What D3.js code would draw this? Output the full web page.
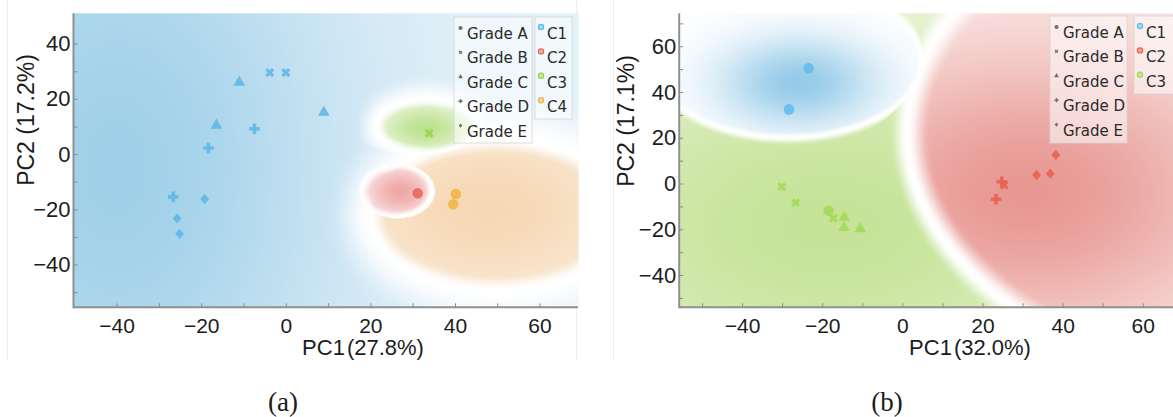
<!doctype html>
<html>
<head>
<meta charset="utf-8">
<title>PCA clusters (a) (b)</title>
<script src="https://cdnjs.cloudflare.com/ajax/libs/d3/7.8.5/d3.min.js"></script>
<style>
  body { margin: 0; background: #fff; }
  svg text { font-family: "Liberation Sans", Arial, sans-serif; fill: #1c1c1c; }
  .legend text { font-family: "DejaVu Sans", Verdana, sans-serif; font-size: 15px; fill: #2a2a2a; }
  .caption { font-family: "Liberation Serif", "Times New Roman", serif !important; }
</style>
</head>
<body>
<div id="chart"></div>
<script>
// ---- data ----
const grades = ["Grade A", "Grade B", "Grade C", "Grade D", "Grade E"];
const clustersA = ["C1", "C2", "C3", "C4"];
const clustersB = ["C1", "C2", "C3"];
const xTicks = [-40, -20, 0, 20, 40, 60];
const yTicksA = [-40, -20, 0, 20, 40];
const yTicksB = [-40, -20, 0, 20, 40, 60];

// samples: [PC1, PC2, grade, cluster]
const pointsA = [
  [-11.0, 26.0, "Grade C", "C1"],
  [-3.8, 29.5, "Grade B", "C1"],
  [0.0, 29.5, "Grade B", "C1"],
  [9.0, 15.1, "Grade C", "C1"],
  [-16.4, 10.4, "Grade C", "C1"],
  [-7.4, 9.2, "Grade D", "C1"],
  [-18.3, 2.2, "Grade D", "C1"],
  [-26.6, -15.5, "Grade D", "C1"],
  [-19.2, -16.3, "Grade E", "C1"],
  [-25.7, -23.3, "Grade E", "C1"],
  [-25.1, -28.9, "Grade E", "C1"],
  [33.9, 7.5, "Grade B", "C3"],
  [31.2, -14.2, "Grade A", "C2"],
  [40.2, -14.5, "Grade A", "C4"],
  [39.6, -18.2, "Grade A", "C4"]
];
const pointsB = [
  [-23.4, 50.4, "Grade A", "C1"],
  [-28.3, 32.4, "Grade A", "C1"],
  [-30.1, -1.4, "Grade B", "C3"],
  [-26.6, -8.4, "Grade B", "C3"],
  [-18.4, -11.9, "Grade A", "C3"],
  [-17.2, -15.2, "Grade B", "C3"],
  [-14.5, -14.8, "Grade C", "C3"],
  [-14.6, -19.3, "Grade C", "C3"],
  [-10.5, -19.8, "Grade C", "C3"],
  [24.8, 0.8, "Grade D", "C2"],
  [25.4, -0.7, "Grade B", "C2"],
  [23.4, -6.9, "Grade D", "C2"],
  [33.5, 3.7, "Grade E", "C2"],
  [36.9, 4.3, "Grade E", "C2"],
  [38.3, 12.5, "Grade E", "C2"]
];

// cluster regions of the shaded background: centre, spread, bias (score = bias - d^2/2)
const regionsA = [
  { cluster: "C1", mu: [0, 0], sd: [1e4, 1e4], bias: 0, core: { mu: [-40, -5], sd: [38, 85], lo: 0.28 } },
  { cluster: "C2", mu: [26.5, -13.5], sd: [4.4, 4.9], bias: 2, core: { mu: [27, -13.5], sd: [5.5, 6.2], lo: 0.08 } },
  { cluster: "C3", mu: [33.5, 10], sd: [12, 10], bias: 0.5, core: { mu: [33, 9.5], sd: [7.5, 6.2], lo: 0.1 } },
  { cluster: "C4", mu: [50, -22], sd: [30, 27.5], bias: 0.5, core: { mu: [48, -20], sd: [24, 22], lo: 0.35 } }
];
const regionsB = [
  { cluster: "C1", mu: [-28, 46], sd: [13, 13], bias: 1.52, core: { mu: [-26, 44], sd: [14, 14], lo: 0 } },
  { cluster: "C2", mu: [35, -2], sd: [30, 31], bias: 0.27, core: { mu: [31, -4], sd: [40, 45], lo: 0.15 } },
  { cluster: "C3", mu: [-22, -18], sd: [40, 40], bias: 0, core: { mu: [-18, -18], sd: [56, 56], lo: 0.3 } }
];

// ---- styles ----
const markColor = {
  a: { C1: "#5fb6e6", C2: "#e8675a", C3: "#98d548", C4: "#f1b444" },
  b: { C1: "#62bcec", C2: "#e8604f", C3: "#a2d957" }
};
const fieldColor = {
  a: { C1: [160, 208, 233], C2: [239, 168, 168], C3: [190, 226, 146], C4: [246, 216, 180] },
  b: { C1: [150, 203, 232], C2: [232, 152, 146], C3: [198, 227, 152] }
};
// width (px) of the fade to white at a boundary: [winner][runner-up]
const fadeWidth = {
  a: {
    C1: { C2: 36, C3: 20, C4: 40 },
    C2: { C1: 12, C3: 8, C4: 8 },
    C3: { C1: 12, C2: 8, C4: 8 },
    C4: { C1: 18, C2: 8, C3: 8 }
  },
  b: {
    C1: { C2: 12, C3: 6 },
    C2: { C1: 20, C3: 24 },
    C3: { C1: 8, C2: 18 }
  }
};

const diamond = {
  draw(ctx, size) {
    const h = Math.sqrt(size) * 0.62, w = h * 0.85;
    ctx.moveTo(0, -h); ctx.lineTo(w, 0); ctx.lineTo(0, h); ctx.lineTo(-w, 0); ctx.closePath();
  }
};
const gradeShape = {
  "Grade A": { type: d3.symbolCircle, size: 88, rot: 0 },
  "Grade B": { type: d3.symbolCross, size: 52, rot: 45 },
  "Grade C": { type: d3.symbolTriangle, size: 60, rot: 0 },
  "Grade D": { type: d3.symbolCross, size: 62, rot: 0 },
  "Grade E": { type: diamond, size: 70, rot: 0 }
};

const panels = [
  {
    id: "a", points: pointsA, regions: regionsA, clusters: clustersA, yTicks: yTicksA,
    xDomain: [-50.2, 69.1], yDomain: [-55.5, 51.0],
    left: 73.5, right: 578, top: 13.3, bottom: 307.3,
    yLabel: "PC2 (17.2%)", yLabelPos: [34, 120],
    xLabel: ["PC1", "(27.8%)"], xLabelPos: [363, 355],
    caption: "(a)", captionPos: [283, 411],
    gradeBox: [454, 17, 78, 126], cBox: [535, 17, 37, 102]
  },
  {
    id: "b", points: pointsB, regions: regionsB, clusters: clustersB, yTicks: yTicksB,
    xDomain: [-55.7, 67.54], yDomain: [-54.1, 74.4],
    left: 679.2, right: 1173, top: 13.3, bottom: 307.3,
    yLabel: "PC2 (17.1%)", yLabelPos: [634, 121],
    xLabel: ["PC1", "(32.0%)"], xLabelPos: [970, 355],
    caption: "(b)", captionPos: [887, 411],
    gradeBox: [1050, 16, 77, 127], cBox: [1134, 16, 50, 78]
  }
];

const width = 1173, height = 417;
const svg = d3.select("#chart").append("svg")
  .attr("width", width).attr("height", height);

// faint edges of the two source images
svg.append("line").attr("x1", 7.5).attr("x2", 7.5).attr("y1", 0).attr("y2", 360).attr("stroke", "#eeeeee");
svg.append("line").attr("x1", 576.5).attr("x2", 576.5).attr("y1", 0).attr("y2", 360).attr("stroke", "#eeeeee");
svg.append("line").attr("x1", 613.5).attr("x2", 613.5).attr("y1", 0).attr("y2", 360).attr("stroke", "#eeeeee");

function smooth(e0, e1, v) {
  const t = Math.max(0, Math.min(1, (v - e0) / (e1 - e0)));
  return t * t * (3 - 2 * t);
}

function drawField(p, x, y) {
  const w = Math.round(p.right - p.left), h = Math.round(p.bottom - p.top);
  const canvas = document.createElement("canvas");
  canvas.width = w; canvas.height = h;
  const ctx = canvas.getContext("2d");
  const img = ctx.createImageData(w, h);
  const kx = x(1) - x(0), ky = y(0) - y(1);
  const cols = fieldColor[p.id], fades = fadeWidth[p.id];
  for (let j = 0; j < h; j++) {
    for (let i = 0; i < w; i++) {
      const X = x.invert(p.left + i + 0.5), Y = y.invert(p.top + j + 0.5);
      let s1 = -Infinity, s2 = -Infinity, r1 = null, r2 = null, g1 = [0, 0], g2 = [0, 0];
      p.regions.forEach(r => {
        const dx = X - r.mu[0], dy = Y - r.mu[1];
        const sx2 = r.sd[0] * r.sd[0], sy2 = r.sd[1] * r.sd[1];
        const s = r.bias - 0.5 * (dx * dx / sx2 + dy * dy / sy2);
        const g = [-(dx / sx2) / kx, (dy / sy2) / ky];
        if (s > s1) { s2 = s1; g2 = g1; r2 = r1; s1 = s; g1 = g; r1 = r; }
        else if (s > s2) { s2 = s; g2 = g; r2 = r; }
      });
      const gm = Math.hypot(g1[0] - g2[0], g1[1] - g2[1]);
      const dist = (s1 - s2) / Math.max(gm, 1e-9);
      const fade = smooth(0, fades[r1.cluster][r2.cluster], dist);
      const c = r1.core;
      const cx = (X - c.mu[0]) / c.sd[0], cy = (Y - c.mu[1]) / c.sd[1];
      const core = c.lo + (1 - c.lo) * Math.exp(-0.5 * (cx * cx + cy * cy));
      const f = fade * core;
      const col = cols[r1.cluster];
      const k = (j * w + i) * 4;
      img.data[k] = 255 + (col[0] - 255) * f;
      img.data[k + 1] = 255 + (col[1] - 255) * f;
      img.data[k + 2] = 255 + (col[2] - 255) * f;
      img.data[k + 3] = 255;
    }
  }
  ctx.putImageData(img, 0, 0);
  return { href: canvas.toDataURL(), w, h };
}

panels.forEach(p => {
  const x = d3.scaleLinear().domain(p.xDomain).range([p.left, p.right]);
  const y = d3.scaleLinear().domain(p.yDomain).range([p.bottom, p.top]);
  const g = svg.append("g").attr("class", "panel-" + p.id);

  const field = drawField(p, x, y);
  g.append("image")
    .attr("x", p.left).attr("y", p.top)
    .attr("width", field.w).attr("height", field.h)
    .attr("preserveAspectRatio", "none")
    .attr("href", field.href);

  // minor inward ticks every 10
  const xMinor = d3.range(-100, 101, 10).filter(v => x(v) > p.left + 3 && x(v) < p.right - 3);
  const yMinor = d3.range(-100, 101, 10).filter(v => y(v) > p.top + 3 && y(v) < p.bottom - 3);
  g.append("g").attr("transform", `translate(0,${p.bottom})`)
    .call(d3.axisBottom(x).tickValues(xMinor).tickSize(-4).tickFormat(""))
    .call(a => a.select(".domain").remove())
    .call(a => a.selectAll("line").attr("stroke", "#8a8a8a"));
  g.append("g").attr("transform", `translate(${p.left},0)`)
    .call(d3.axisLeft(y).tickValues(yMinor).tickSize(-4).tickFormat(""))
    .call(a => a.select(".domain").remove())
    .call(a => a.selectAll("line").attr("stroke", "#8a8a8a"));

  // tick labels
  g.append("g").attr("transform", `translate(0,${p.bottom})`)
    .call(d3.axisBottom(x).tickValues(xTicks).tickSize(0).tickPadding(11))
    .call(a => a.select(".domain").remove())
    .call(a => a.selectAll("text").style("font-size", "21px").attr("fill", "#1c1c1c"));
  g.append("g").attr("transform", `translate(${p.left},0)`)
    .call(d3.axisLeft(y).tickValues(p.yTicks).tickSize(0).tickPadding(3))
    .call(a => a.select(".domain").remove())
    .call(a => a.selectAll("text").style("font-size", "22px").attr("fill", "#1c1c1c"));

  // axis lines
  g.append("line").attr("x1", p.left).attr("x2", p.right).attr("y1", p.bottom).attr("y2", p.bottom)
    .attr("stroke", "#8f8f8f").attr("stroke-width", 2);
  g.append("line").attr("x1", p.left).attr("x2", p.left).attr("y1", p.top).attr("y2", p.bottom + 1)
    .attr("stroke", "#8f8f8f").attr("stroke-width", 2);

  // samples
  g.append("g").selectAll("path")
    .data(p.points)
    .join("path")
    .attr("d", d => d3.symbol(gradeShape[d[2]].type, gradeShape[d[2]].size)())
    .attr("transform", d => `translate(${x(d[0])},${y(d[1])}) rotate(${gradeShape[d[2]].rot})`)
    .attr("fill", d => markColor[p.id][d[3]])
    .attr("fill-opacity", 0.88);

  // axis titles
  g.append("text")
    .attr("transform", `translate(${p.yLabelPos[0]},${p.yLabelPos[1]}) rotate(-90)`)
    .attr("text-anchor", "middle").style("font-size", "23px")
    .text(p.yLabel);
  const xl = g.append("text")
    .attr("x", p.xLabelPos[0]).attr("y", p.xLabelPos[1])
    .attr("text-anchor", "middle").style("font-size", "22px");
  xl.append("tspan").text(p.xLabel[0]);
  xl.append("tspan").attr("dx", 2).text(p.xLabel[1]);

  g.append("text").attr("class", "caption")
    .attr("x", p.captionPos[0]).attr("y", p.captionPos[1])
    .attr("text-anchor", "middle").style("font-size", "27px")
    .text(p.caption);

  // legends
  const lg = g.append("g").attr("class", "legend");
  const [gx, gy, gw, gh] = p.gradeBox;
  const [cx, cy, cw, ch] = p.cBox;
  lg.append("rect").attr("x", gx).attr("y", gy).attr("width", gw).attr("height", gh)
    .attr("fill", "#ffffff").attr("fill-opacity", 0.55)
    .attr("stroke", "#d4d4d4").attr("stroke-opacity", 0.8);
  lg.append("rect").attr("x", cx).attr("y", cy).attr("width", cw).attr("height", ch)
    .attr("fill", "#ffffff").attr("fill-opacity", 0.55)
    .attr("stroke", "#d4d4d4").attr("stroke-opacity", 0.8);

  const rowY = i => gy + 22 + i * 24.4;
  lg.selectAll("path.gk").data(grades).join("path").attr("class", "gk")
    .attr("d", d => d3.symbol(gradeShape[d].type, gradeShape[d].size * 0.16)())
    .attr("transform", (d, i) => `translate(${gx + 6.5},${rowY(i) - 11}) rotate(${gradeShape[d].rot})`)
    .attr("fill", "#6e6e6e");
  lg.selectAll("text.gk").data(grades).join("text").attr("class", "gk")
    .attr("x", gx + 13).attr("y", (d, i) => rowY(i))
    .text(d => d);

  lg.selectAll("circle.ck").data(p.clusters).join("circle").attr("class", "ck")
    .attr("cx", cx + 6).attr("cy", (d, i) => rowY(i) - 12).attr("r", 2.6)
    .attr("fill", d => markColor[p.id][d]).attr("fill-opacity", 0.5)
    .attr("stroke", d => markColor[p.id][d]).attr("stroke-width", 1.2);
  lg.selectAll("text.ck").data(p.clusters).join("text").attr("class", "ck")
    .attr("x", cx + 12).attr("y", (d, i) => rowY(i))
    .text(d => d);
});
</script>
</body>
</html>
